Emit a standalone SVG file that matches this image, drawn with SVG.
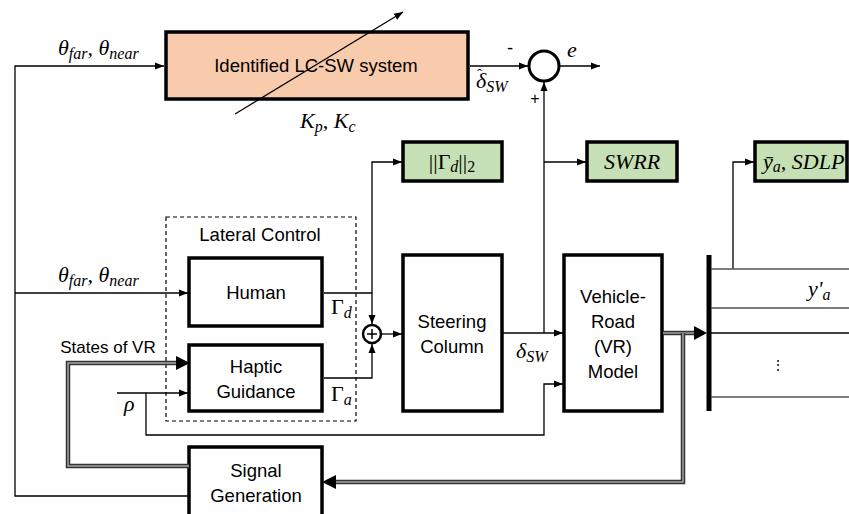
<svg xmlns="http://www.w3.org/2000/svg" width="849" height="514" viewBox="0 0 849 514">
<style>
.box{fill:#fff;stroke:#000;stroke-width:3.5}
.peach{fill:#F8CBAD;stroke:#000;stroke-width:3.5}
.green{fill:#C5E0B4;stroke:#000;stroke-width:3.5}
.ln{fill:none;stroke:#000;stroke-width:1.3}
.gl{fill:none;stroke:#555;stroke-width:1.6}
.tri{fill:none;stroke:#333;stroke-width:4.5}
.tri2{fill:none;stroke:#a8a8a8;stroke-width:1.4}
.t{font-family:"Liberation Sans",Arial,sans-serif;font-size:18.5px;fill:#000;text-anchor:middle}
.m{font-family:"Liberation Serif","DejaVu Serif",serif;font-style:italic;font-size:22px;fill:#000}
.s{font-size:16px}
.u{font-style:normal}
</style>
<defs>
<marker id="ah" markerUnits="userSpaceOnUse" markerWidth="9" markerHeight="8" refX="9" refY="4" orient="auto">
<path d="M0,0.5 L9,4 L0,7.5 z" fill="#000"/>
</marker>
</defs>

<g id="lateral-control">
<rect x="166" y="217" width="190" height="204" fill="none" stroke="#000" stroke-width="1.2" stroke-dasharray="4,3"/>
<text class="t" x="260" y="241">Lateral Control</text>
</g>

<g id="identified-system">
<rect class="peach" x="166" y="32" width="302" height="67"/>
<text class="t" x="316" y="72">Identified LC-SW system</text>
</g>

<g id="sum-top">
<circle cx="544" cy="66" r="15" fill="#fff" stroke="#000" stroke-width="3"/>
</g>

<g id="sum-torque">
<circle cx="372" cy="334" r="9" fill="#fff" stroke="#000" stroke-width="2.5"/>
<path d="M367,334 H377 M372,329 V339" stroke="#000" stroke-width="1.5"/>
</g>

<g id="norm-gamma">
<rect class="green" x="403" y="142" width="99" height="39"/>
<text class="m" x="452" y="169" text-anchor="middle"><tspan class="u">||Γ</tspan><tspan class="s" dy="3">d</tspan><tspan class="u" dy="-3">||</tspan><tspan class="u s" dy="3">2</tspan></text>
</g>

<g id="swrr">
<rect class="green" x="587" y="142" width="90" height="39"/>
<text class="m" x="632" y="169" text-anchor="middle">SWRR</text>
</g>

<g id="ya-sdlp">
<rect class="green" x="755" y="142" width="92" height="39"/>
<text class="m" x="763" y="169">ȳ<tspan class="s" dy="3">a</tspan><tspan dy="-3">, SDLP</tspan></text>
</g>

<g id="human">
<rect class="box" x="189" y="258" width="133" height="68"/>
<text class="t" x="256" y="299">Human</text>
</g>

<g id="haptic">
<rect class="box" x="189" y="345" width="133" height="66"/>
<text class="t" x="256" y="373">Haptic</text>
<text class="t" x="256" y="398">Guidance</text>
</g>

<g id="steering">
<rect class="box" x="403" y="255" width="99" height="156"/>
<text class="t" x="452" y="328">Steering</text>
<text class="t" x="452" y="353">Column</text>
</g>

<g id="vehicle">
<rect class="box" x="564" y="255" width="98" height="156"/>
<text class="t" x="613" y="303">Vehicle-</text>
<text class="t" x="613" y="328">Road</text>
<text class="t" x="613" y="353">(VR)</text>
<text class="t" x="613" y="378">Model</text>
</g>

<g id="signal">
<rect class="box" x="189" y="447" width="133" height="70"/>
<text class="t" x="256" y="477">Signal</text>
<text class="t" x="256" y="502">Generation</text>
</g>

<g id="bus">
<rect x="706.5" y="255" width="5" height="156" fill="#000"/>
</g>

<g id="connectors">
<path class="ln" d="M189,496 H15 V66 H164" marker-end="url(#ah)"/>
<path class="ln" d="M15,293 H188" marker-end="url(#ah)"/>
<path class="ln" d="M235,114 L403,12" marker-end="url(#ah)"/>
<path class="ln" d="M470,66 H528" marker-end="url(#ah)"/>
<path class="ln" d="M560,66 H600" marker-end="url(#ah)"/>
<path class="ln" d="M503,333 H563" marker-end="url(#ah)"/>
<path class="ln" d="M544,333 V82" marker-end="url(#ah)"/>
<path class="ln" d="M544,162 H586" marker-end="url(#ah)"/>
<path class="ln" d="M324,293 H372 V324" marker-end="url(#ah)"/>
<path class="ln" d="M372,293 V162 H402" marker-end="url(#ah)"/>
<path class="ln" d="M324,378 H372 V344" marker-end="url(#ah)"/>
<path class="ln" d="M382,334 H402" marker-end="url(#ah)"/>
<path class="ln" d="M117,393 H188" marker-end="url(#ah)"/>
<path class="ln" d="M146,393 V435 H544 V384 H563" marker-end="url(#ah)"/>
<path class="ln" d="M733,269 V162 H754" marker-end="url(#ah)"/>
<path class="gl" d="M711,269 H849"/>
<path class="gl" d="M711,308 H849"/>
<path class="ln" d="M711,333 H849"/>
<path class="gl" d="M711,397 H849"/>
<path class="tri" d="M189,466 H68 V363 H176"/>
<path class="tri2" d="M189,466 H68 V363 H176"/>
<polygon points="176,356 190,363 176,370" fill="#000"/>
<path class="tri" d="M663,333 H695"/>
<path class="tri2" d="M663,333 H695"/>
<polygon points="694,326 707,333 694,340" fill="#000"/>
<path class="tri" d="M683,333 V482 H335"/>
<path class="tri2" d="M683,333 V482 H335"/>
<polygon points="336,475 322,482 336,489" fill="#000"/>
</g>

<g id="labels">
<text class="m" x="58" y="55">θ<tspan class="s" dy="4">far</tspan><tspan dy="-4">, θ</tspan><tspan class="s" dy="4">near</tspan></text>
<text class="m" x="58" y="282">θ<tspan class="s" dy="4">far</tspan><tspan dy="-4">, θ</tspan><tspan class="s" dy="4">near</tspan></text>
<text class="m" x="300" y="128">K<tspan class="s" dy="4">p</tspan><tspan dy="-4">, K</tspan><tspan class="s" dy="4">c</tspan></text>
<text class="m" x="476" y="88">δ<tspan class="s" dy="4">SW</tspan></text>
<text class="m u" x="477" y="79" style="font-size:15px">ˆ</text>
<text class="m" x="567" y="57">e</text>
<text class="t" x="510" y="54">-</text>
<text class="t" x="535" y="104" style="font-size:16px">+</text>
<text class="m" x="331" y="314"><tspan class="u">Γ</tspan><tspan class="s" dy="4">d</tspan></text>
<text class="m" x="331" y="401"><tspan class="u">Γ</tspan><tspan class="s" dy="4">a</tspan></text>
<text class="m" x="516" y="358">δ<tspan class="s" dy="4">SW</tspan></text>
<text class="m" x="124" y="411">ρ</text>
<text class="m" x="808" y="296">y'<tspan class="s" dy="4">a</tspan></text>
<text class="t" x="778" y="370" style="font-size:14px">⋮</text>
<text class="t" x="108" y="353" style="font-size:17px">States of VR</text>
</g>
</svg>
